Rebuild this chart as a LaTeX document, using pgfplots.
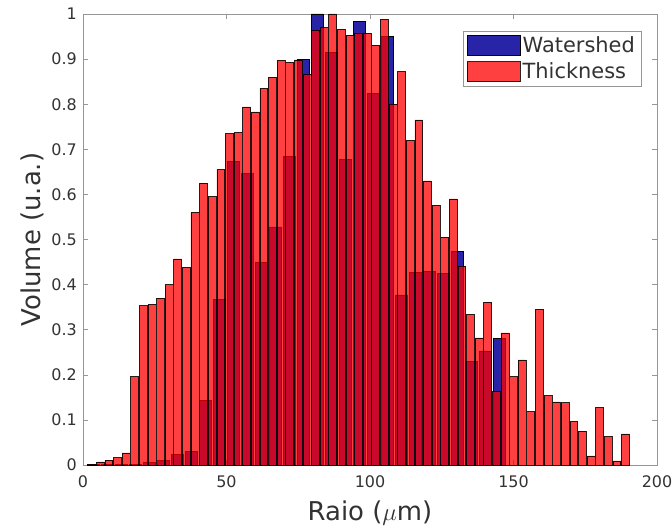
\documentclass[border=0pt]{standalone}
\usepackage{fontspec}
\setmainfont{DejaVu Sans}
\usepackage{pgfplots}
\pgfplotsset{compat=1.18}
\definecolor{wsblue}{RGB}{40,36,168}
\definecolor{axgray}{RGB}{150,150,150}
\definecolor{txtgray}{RGB}{50,50,50}
\pgfplotsset{mylegend/.style={legend image code/.code={\draw[##1] (0bp,-10bp) rectangle (53bp,10bp);}}}
\begin{document}
\begin{tikzpicture}
\begin{axis}[
  scale only axis, width=574bp, height=451bp,
  xmin=0, xmax=200, ymin=0, ymax=1,
  xtick={0,50,100,150,200},
  ytick={0,0.1,0.2,0.3,0.4,0.5,0.6,0.7,0.8,0.9,1},
  yticklabels={0,0.1,0.2,0.3,0.4,0.5,0.6,0.7,0.8,0.9,1},
  tick align=inside, major tick length=5bp,
  axis line style={axgray, line width=0.6bp},
  tick style={axgray, line width=0.6bp},
  ticklabel style={font=\fontsize{16}{19}\selectfont, text=txtgray},
  /pgf/number format/assume math mode=true,
  xticklabel style={yshift=-7bp},
  yticklabel style={xshift=-2.7bp},
  xlabel={Raio ($\mu$m)},
  ylabel={Volume (u.a.)},
  label style={font=\fontsize{26}{30}\selectfont, text=txtgray},
  xlabel style={at={(axis description cs:0.5,-0.122)}, anchor=base},
  ylabel style={at={(axis description cs:-0.0749,0.5)}, anchor=base},
  legend style={at={(axis description cs:1,1)}, anchor=north east, xshift=-16bp, yshift=-16.7bp,
    draw=axgray, fill=white, font=\fontsize{21}{25}\selectfont, text=txtgray,
    inner xsep=4bp, inner ysep=4bp, row sep=6bp, cells={anchor=west},
    nodes={inner xsep=2bp, inner ysep=1bp}},
]
\addplot[ybar, bar shift=0pt, bar width=4.3, fill=wsblue, draw=black, line width=0.6bp, mylegend] coordinates {
(3.55,0.002) (8.43,0.001) (13.31,0.001) (18.19,0.002) (23.07,0.005) (27.94,0.011)
(32.82,0.024) (37.70,0.030) (42.58,0.144) (47.46,0.367) (52.33,0.673) (57.21,0.647)
(62.09,0.449) (66.97,0.528) (71.85,0.684) (76.72,0.900) (81.60,1.000) (86.48,0.914)
(91.36,0.678) (96.24,0.983) (101.11,0.824) (105.99,0.950) (110.87,0.377) (115.75,0.427)
(120.63,0.430) (125.51,0.425) (130.38,0.474) (135.26,0.229) (140.14,0.253) (145.02,0.281)
};
\addplot[ybar, bar shift=0pt, bar width=2.75, fill=red, fill opacity=0.75, draw=black, draw opacity=0.85, line width=0.6bp, mylegend] coordinates {
(3,0.002) (6,0.007) (9,0.011) (12,0.016) (15,0.027) (18,0.196) (21,0.353) (24,0.356)
(27,0.370) (30,0.400) (33,0.457) (36,0.438) (39,0.560) (42,0.625) (45,0.595) (48,0.655)
(51,0.735) (54,0.737) (57,0.794) (60,0.783) (63,0.835) (66,0.860) (69,0.897) (72,0.893)
(75,0.898) (78,0.866) (81,0.964) (84,0.970) (87,1.000) (90,0.966) (93,0.953) (96,0.958)
(99,0.957) (102,0.931) (105,0.988) (108,0.800) (111,0.872) (114,0.720) (117,0.765) (120,0.630)
(123,0.576) (126,0.505) (129,0.590) (132,0.441) (135,0.334) (138,0.282) (141,0.361) (144,0.163)
(147,0.293) (150,0.196) (153,0.233) (156,0.118) (159,0.345) (162,0.154) (165,0.140) (168,0.138)
(171,0.096) (174,0.075) (177,0.020) (180,0.127) (183,0.063) (186,0.009) (189,0.069)
};
\legend{Watershed, Thickness}
\end{axis}
\pgfresetboundingbox
\useasboundingbox (-83bp,-64bp) rectangle (589bp,465bp);
\end{tikzpicture}
\end{document}
